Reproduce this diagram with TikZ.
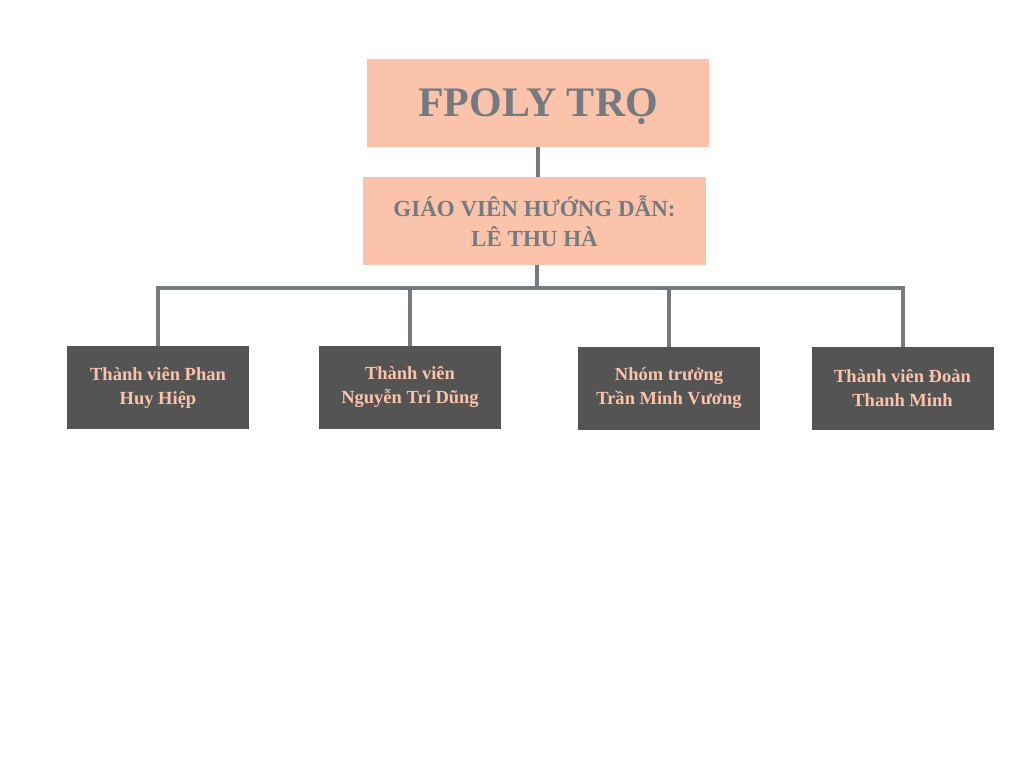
\documentclass[tikz,border=0pt]{standalone}
\usepackage{fontspec}
\setmainfont{Liberation Serif}
\usetikzlibrary{positioning}
\definecolor{peach}{HTML}{FCC3AB}
\definecolor{slate}{HTML}{737B80}
\definecolor{charcoal}{HTML}{545454}
\tikzset{
  headbox/.style={fill=peach, text=slate, minimum width=342pt, minimum height=88pt,
    inner sep=0pt, align=center},
  memberbox/.style={fill=charcoal, text=peach, minimum width=182pt, minimum height=83pt,
    inner sep=0pt, align=center, font=\bfseries\fontsize{18.5}{24}\selectfont},
  link/.style={draw=slate, line width=4pt}
}
\begin{document}
\begin{tikzpicture}[x=1pt,y=-1pt]
   \useasboundingbox (0,0) rectangle (1024,768);
   % project and teacher
   \node[headbox, text depth=0pt, font=\bfseries\fontsize{42}{50}\selectfont] (fpoly) at (538,103) {FPOLY TRỌ};
   \node[headbox, minimum width=343pt, font=\bfseries\fontsize{23}{30}\selectfont] (gvhd) at (534.5,221)
        {GIÁO VIÊN HƯỚNG DẪN:\\LÊ THU HÀ};
   % members
   \node[memberbox] (tv1) at (158,387.5) {Thành viên Phan\\Huy Hiệp};
   \node[memberbox] (tv2) at (410,387.5) {Thành viên\\Nguyễn Trí Dũng};
   \node[memberbox] (tv3) at (669,388.5) {Nhóm trưởng\\Trần Minh Vương};
   \node[memberbox] (tv4) at (902.5,388.5) {Thành viên Đoàn\\Thanh Minh};
   \coordinate (bus) at (537,288);
   \path[link]
    (fpoly.south) -- (fpoly.south |- gvhd.north)
    (gvhd.south -| bus) -- (bus)
    (tv1.north) |- (bus) -| (tv4.north)
    (tv2.north) -- (tv2.north |- bus)
    (tv3.north) -- (tv3.north |- bus);
\end{tikzpicture}
\end{document}
